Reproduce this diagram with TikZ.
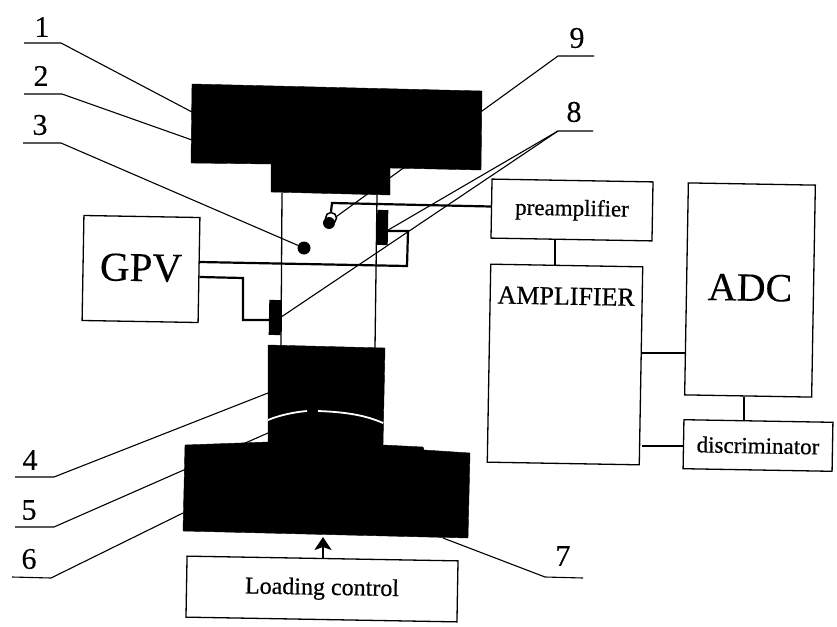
\documentclass[tikz,border=0pt]{standalone}
\usepackage{fontspec}
\setmainfont[FakeBold=0.6]{Liberation Serif}
\newfontfamily\largefont[FakeBold=0.2]{Liberation Serif}
\usetikzlibrary{arrows.meta}
\tikzset{
  x=1pt,y=-1pt,
  box/.style={draw=black,line width=1.3pt,fill=white,rotate=-1,inner sep=0pt,align=center},
  solid block/.style={fill=black,draw=black,line width=.4pt,line join=round},
  leader/.style={draw=black,line width=1.1pt},
  wire/.style={draw=black,line width=2.2pt},
  thin wire/.style={draw=black,line width=1.3pt},
  numlabel/.style={font=\largefont\fontsize{30}{30}\selectfont,inner sep=0pt},
  blackdot/.style={circle,fill=black,inner sep=0pt,minimum size=12pt},
  ring/.style={circle,draw=black,line width=1.5pt,fill=white,inner sep=0pt,minimum size=11pt},
  sensor/.style={rectangle,fill=black,inner sep=0pt,rotate=-1},
}
\begin{document}
\begin{tikzpicture}
\useasboundingbox (0,0) rectangle (837,626);
% specimen edges
\coordinate (specTL) at (282,193);
\coordinate (specBL) at (281,346);
\coordinate (specTR) at (377,195);
\coordinate (specBR) at (375,348);
\draw[thin wire] (specTL) -- (specBL);
\draw[thin wire] (specTR) -- (specBR);
% leader 9 runs behind the upper block
\coordinate (l9a) at (594,56);
\coordinate (l9b) at (558,56);
\coordinate (l9c) at (333,219);
\draw[leader] (l9a) -- (l9b) -- (l9c);
% upper grip
\fill[solid block] (192,84) -- (482,91) -- (481,170) -- (390,168) -- (390,195) -- (271,192) -- (271,164) -- (191,163) -- cycle;
% lower grip and base
\fill[solid block] (268,345) -- (385,348) -- (383,445) -- (423,447) -- (424,450) -- (470,453) -- (468,538) -- (183,531) -- (185,445) -- (268,442) -- cycle;
% white seam
\coordinate (seamL) at (268,420);
\coordinate (seamLm) at (307,411);
\coordinate (seamRm) at (318,411);
\coordinate (seamR) at (383,423);
\draw[white,line width=1.8pt] (seamL) .. controls (280,415) and (295,412) .. (seamLm);
\draw[white,line width=1.8pt] (seamRm) .. controls (345,412) and (365,415) .. (seamR);
% boxes
\node[box,minimum width=116pt,minimum height=105pt,font=\largefont\fontsize{41}{41}\selectfont] (gpv) at (141,269) {\raisebox{3pt}{GPV}};
\node[box,minimum width=161pt,minimum height=59pt,font=\fontsize{23}{23}\selectfont] (pre) at (572,210) {preamplifier};
\node[box,minimum width=152pt,minimum height=198pt,font=\fontsize{26}{26}\selectfont] (amp) at (565,364.5) {\parbox[c][190pt][t]{148pt}{\centering\vspace{18pt}AMPLIFIER}};
\node[box,minimum width=127pt,minimum height=212pt,font=\largefont\fontsize{40}{40}\selectfont] (adc) at (750,290) {\raisebox{5pt}{ADC}};
\node[box,minimum width=149pt,minimum height=49pt,font=\fontsize{23}{23}\selectfont] (disc) at (758,445.5) {discriminator};
\node[box,minimum width=271pt,minimum height=61pt,font=\fontsize{24}{24}\selectfont] (load) at (322,589) {Loading control};
% sensors
\node[sensor,minimum width=11pt,minimum height=35pt] (s1) at (382.5,227.5) {};
\node[sensor,minimum width=12pt,minimum height=35pt] (s2) at (275,317.5) {};
\node[ring] (ringd) at (331,218) {};
\node[blackdot] (dot9) at (329,223) {};
\node[blackdot,minimum size=13pt] (dot3) at (304,248) {};
% wiring
\coordinate (w1) at (332,203);
\draw[wire] (ringd.north) -- (w1) -- (pre.west |- 0,206.5);
\coordinate (g1) at (407,266);
\coordinate (g2) at (408,231);
\draw[wire] (gpv.east |- 0,262) -- (g1) -- (g2) -- (s1.east |- 0,231);
\coordinate (g3) at (243,278);
\coordinate (g4) at (243,320);
\draw[wire] (gpv.east |- 0,277) -- (g3) -- (g4) -- (s2.west |- 0,320);
\draw[thin wire] (pre.south -| 555,0) -- (amp.north -| 555,0);
\draw[wire] (amp.east |- 0,353) -- (adc.west |- 0,353);
\draw[wire,line width=2.6pt] (adc.south -| 744,0) -- (disc.north -| 744,0);
\draw[wire] (amp.east |- 0,446) -- (disc.west |- 0,446);
\coordinate (loadtip) at (323,537);
\draw[wire,-{Stealth[length=13pt,width=17pt,inset=3pt]}] (load.north -| 323,0) -- (loadtip);
% leaders
\node[numlabel] (n1) at (42,27) {1};
\coordinate (l1a) at (24,43); \coordinate (l1b) at (61,43); \coordinate (l1c) at (192,112);
\draw[leader] (l1a) -- (l1b) -- (l1c);
\node[numlabel] (n2) at (41,76) {2};
\coordinate (l2a) at (24,94); \coordinate (l2b) at (62,94); \coordinate (l2c) at (192,140);
\draw[leader] (l2a) -- (l2b) -- (l2c);
\node[numlabel] (n3) at (40,125) {3};
\coordinate (l3a) at (23,143); \coordinate (l3b) at (61,143);
\draw[leader] (l3a) -- (l3b) -- (dot3);
\node[numlabel] (n4) at (30,460) {4};
\coordinate (l4a) at (15,477); \coordinate (l4b) at (54,477); \coordinate (l4c) at (268,393);
\draw[leader] (l4a) -- (l4b) -- (l4c);
\node[numlabel] (n5) at (29,510) {5};
\coordinate (l5a) at (15,527); \coordinate (l5b) at (54,527); \coordinate (l5c) at (268,433);
\draw[leader] (l5a) -- (l5b) -- (l5c);
\node[numlabel] (n6) at (29,559) {6};
\coordinate (l6a) at (12,577); \coordinate (l6b) at (51,578); \coordinate (l6c) at (183,513);
\draw[leader] (l6a) -- (l6b) -- (l6c);
\node[numlabel] (n7) at (563,556) {7};
\coordinate (l7a) at (443,538); \coordinate (l7b) at (545,577); \coordinate (l7c) at (583,578);
\draw[leader] (l7a) -- (l7b) -- (l7c);
\node[numlabel] (n8) at (574,112) {8};
\coordinate (l8a) at (593,131); \coordinate (l8b) at (558,131);
\draw[leader] (l8a) -- (l8b) -- (s1.east |- 0,230);
\draw[leader] (l8b) -- (s2.east |- 0,317);
\node[numlabel] (n9) at (577,38) {9};
\end{tikzpicture}
\end{document}
